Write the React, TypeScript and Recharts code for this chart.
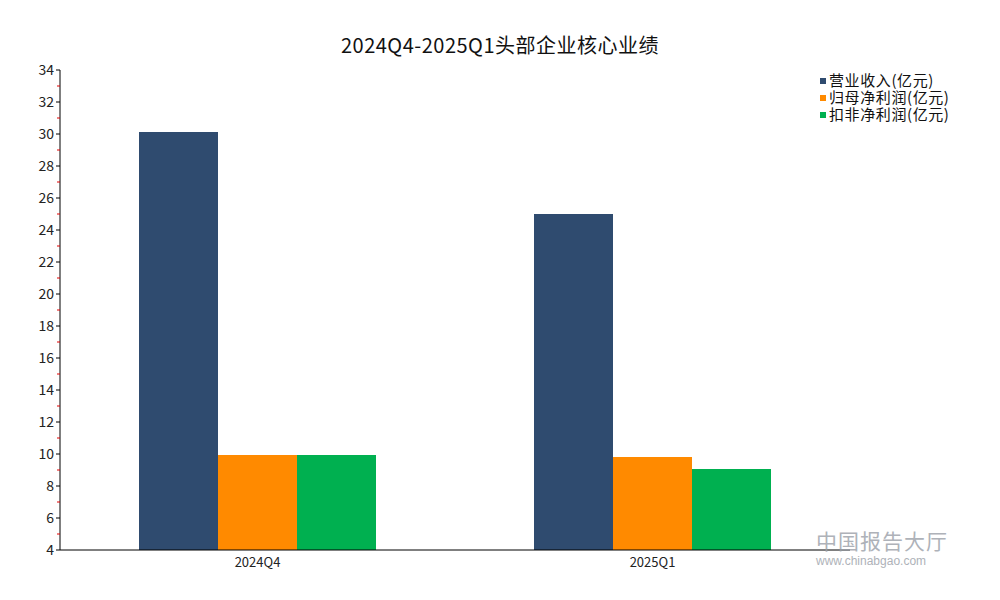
import React from "react";
import { BarChart, Bar, XAxis, YAxis } from "recharts";

const categories = ["2024Q4", "2025Q1"];
const revenue = [30.13, 25.0];
const netProfit = [9.94, 9.81];
const deductedProfit = [9.94, 9.06];
const yTicks = [4, 5, 6, 7, 8, 9, 10, 11, 12, 13, 14, 15, 16, 17, 18, 19, 20, 21, 22, 23, 24, 25, 26, 27, 28, 29, 30, 31, 32, 33, 34];

const seriesNames = ["营业收入(亿元)", "归母净利润(亿元)", "扣非净利润(亿元)"];
const colors = ["#2F4B6F", "#FF8A00", "#00B050"];

const data = categories.map((c, i) => ({
  name: c,
  a: revenue[i],
  b: netProfit[i],
  c: deductedProfit[i],
}));

const FONT = "'Noto Sans CJK SC', 'Noto Sans', sans-serif";

const YTick = (props: any) => {
  const { x, y, payload } = props;
  const axisX = x + 5 + 2;
  const v = payload.value;
  if (v % 2 !== 0) {
    return <line x1={axisX - 3} x2={axisX} y1={y} y2={y} stroke="#E00000" strokeWidth={1} />;
  }
  return (
    <g>
      <line x1={axisX - 4} x2={axisX} y1={y} y2={y} stroke="#000" strokeWidth={1} />
      <text x={axisX - 6} y={y} dy={5} textAnchor="end" fontSize={14} fill="#222" fontFamily={FONT}>
        {v}
      </text>
    </g>
  );
};

export default function App() {
  return (
    <div style={{ position: "relative", width: 984, height: 584, background: "#fff" }}>
      <div
        style={{
          position: "absolute",
          left: 0,
          width: 984,
          top: 23,
          textAlign: "center",
          fontFamily: FONT,
          fontSize: 20,
          letterSpacing: 0.5,
          color: "#111",
          lineHeight: "28px",
        }}
      >
        2024Q4-2025Q1头部企业核心业绩
      </div>
      <BarChart
        width={984}
        height={584}
        data={data}
        margin={{ top: 62, right: 142, bottom: 12, left: 12 }}
        barCategoryGap="20%"
        barGap={0}
      >
        <XAxis
          dataKey="name"
          axisLine={{ stroke: "#000", strokeWidth: 1 }}
          tickLine={false}
          height={30}
          tick={{ fontSize: 13, fill: "#222", fontFamily: FONT }}
          tickMargin={2}
        />
        <YAxis
          domain={[4, 34]}
          ticks={yTicks}
          interval={0}
          width={40}
          allowDataOverflow
          axisLine={{ stroke: "#000", strokeWidth: 1 }}
          tickLine={false}
          tickSize={5}
          tickMargin={2}
          tick={<YTick />}
        />
        <Bar dataKey="a" name={seriesNames[0]} fill={colors[0]} isAnimationActive={false} />
        <Bar dataKey="b" name={seriesNames[1]} fill={colors[1]} isAnimationActive={false} />
        <Bar dataKey="c" name={seriesNames[2]} fill={colors[2]} isAnimationActive={false} />
      </BarChart>
      <svg
        width={170}
        height={60}
        style={{ position: "absolute", left: 810, top: 64, overflow: "visible" }}
      >
        {seriesNames.map((n, i) => (
          <g key={i}>
            <rect x={2} y={6 + i * 17} width={6} height={6} fill={colors[i]} />
            <text
              x={11}
              y={14 + i * 17}
              fontSize={15}
              letterSpacing={0.6}
              fill="#111"
              fontFamily={FONT}
            >
              {n}
            </text>
          </g>
        ))}
      </svg>
      <div
        style={{
          position: "absolute",
          left: 808,
          top: 521,
          fontFamily: FONT,
          color: "#9AA0A8",
          opacity: 0.8,
          pointerEvents: "none",
        }}
      >
        <div style={{ fontSize: 21, lineHeight: "22px", height: 22, letterSpacing: 1 }}>中国报告大厅</div>
        <div style={{ fontSize: 12, lineHeight: "13px", marginTop: 4, fontFamily: "Arial, 'Liberation Sans', sans-serif" }}>
          www.chinabgao.com
        </div>
      </div>
    </div>
  );
}
